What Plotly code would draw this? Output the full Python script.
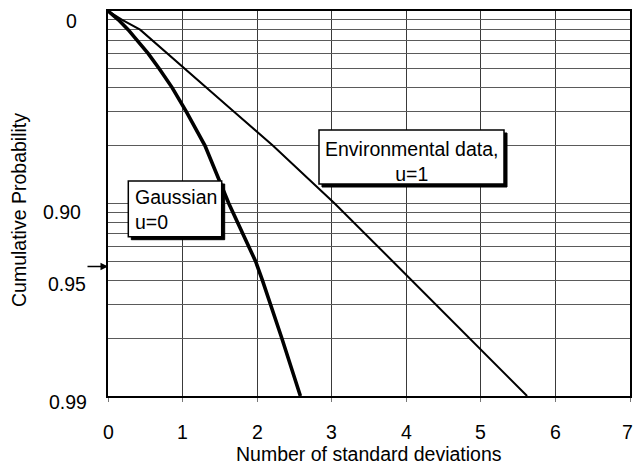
import numpy as np
import plotly.graph_objects as go

# ---------------- data ----------------
x_tick_values = [0, 1, 2, 3, 4, 5, 6, 7]

gaussian_prob = [0.0, 0.1, 0.2, 0.3, 0.4, 0.5, 0.6, 0.7, 0.8, 0.9, 0.95, 0.96, 0.97, 0.98, 0.99]
gaussian_sd = [0.0, 0.14, 0.27, 0.40, 0.54, 0.69, 0.86, 1.05, 1.30, 1.62, 1.98, 2.07, 2.18, 2.33, 2.58]

env_prob = [0.0, 0.1, 0.2, 0.3, 0.4, 0.5, 0.6, 0.7, 0.8, 0.9, 0.95, 0.97, 0.98, 0.99]
env_sd = [0.0, 0.19, 0.43, 0.60, 0.80, 1.03, 1.32, 1.69, 2.21, 3.04, 3.82, 4.39, 4.84, 5.62]

grid_prob = [0.1, 0.2, 0.3, 0.4, 0.5, 0.6, 0.7, 0.8, 0.9,
             0.91, 0.92, 0.93, 0.94, 0.95, 0.96, 0.97, 0.98]

y_label_text = ["0", "0.90", "0.95", "0.99"]
y_label_prob = [0.0, 0.90, 0.95, 0.99]
arrow_prob = 0.95

gauss_label = "Gaussian<br>u=0"
env_label = "Environmental data,<br>u=1"


def scale(p):
    """Exponential probability paper: -ln(1-p)."""
    return -np.log(1.0 - np.asarray(p, dtype=float))


# ---------------- figure ----------------
W, H = 634, 464
L, R, T, B = 108, 4, 11, 68
PW, PH = W - L - R, H - T - B
FONT = "Liberation Sans, Arial, sans-serif"
FS = 19.5


def px(xp):
    return (xp - L) / PW


def py(yp):
    return (T + PH - yp) / PH


fig = go.Figure()
fig.add_trace(go.Scatter(x=env_sd, y=scale(env_prob), mode="lines",
                         line=dict(color="black", width=2), showlegend=False))
fig.add_trace(go.Scatter(x=gaussian_sd, y=scale(gaussian_prob), mode="lines",
                         line=dict(color="black", width=3.6), showlegend=False))

fig.update_layout(
    width=W, height=H,
    margin=dict(l=L, r=R, t=T, b=B),
    paper_bgcolor="white", plot_bgcolor="white",
    font=dict(family=FONT, size=FS, color="black"),
    showlegend=False,
)
fig.update_xaxes(
    range=[0, 7], tickvals=x_tick_values, showticklabels=False,
    showgrid=True, gridcolor="#3a3a3a", gridwidth=1,
    zeroline=False, showline=True, linecolor="black", linewidth=2, mirror=True,
    ticks="outside", ticklen=4, tickcolor="#777", automargin=False,
)
fig.update_yaxes(
    range=[float(scale(0.99)), 0], tickvals=list(scale(grid_prob)), showticklabels=False,
    showgrid=True, gridcolor="#5a5a5a", gridwidth=1, zeroline=False,
    showline=True, linecolor="black", linewidth=2, mirror=True, ticks="", automargin=False,
)

ann = []
# x tick labels (last one nudged so it stays inside the page)
for i, v in enumerate(x_tick_values):
    ann.append(dict(text=str(v), xref="x", yref="paper", x=v, y=py(432),
                    xshift=-3 if i == len(x_tick_values) - 1 else 0,
                    xanchor="center", yanchor="middle", showarrow=False,
                    font=dict(size=FS)))
# y tick labels (placed as in the reference)
label_center_x = [71.5, 62, 67, 68]
label_shift_y = [-10, -8.5, -22.5, -5.7]
for txt, p, cx, dy in zip(y_label_text, y_label_prob, label_center_x, label_shift_y):
    ann.append(dict(text=txt, xref="paper", yref="y", x=0, y=float(scale(p)),
                    xshift=cx - L, yshift=dy, xanchor="center", yanchor="middle",
                    showarrow=False, font=dict(size=FS)))
# arrow on the left axis
ann.append(dict(text="", xref="paper", yref="y", x=0, y=float(scale(arrow_prob)), yshift=-5,
                showarrow=True, arrowhead=2, arrowsize=1, arrowwidth=1.5, arrowcolor="black",
                ax=-22, ay=0))
# axis titles
ann.append(dict(text="Number of standard deviations", xref="paper", yref="paper",
                x=px(368.5), y=py(453.5), xanchor="center", yanchor="middle",
                showarrow=False, font=dict(size=FS)))
ann.append(dict(text="Cumulative Probability", xref="paper", yref="paper",
                x=px(19), y=py(210), xanchor="center", yanchor="middle", textangle=-90,
                showarrow=False, font=dict(size=FS)))
# box texts
ann.append(dict(text=gauss_label, xref="paper", yref="paper", x=px(133), y=py(209.5),
                xanchor="left", yanchor="middle", align="left", showarrow=False,
                font=dict(size=FS)))
ann.append(dict(text=env_label, xref="paper", yref="paper", x=px(411.5), y=py(161),
                xanchor="center", yanchor="middle", align="center", showarrow=False,
                font=dict(size=FS)))
fig.update_layout(annotations=ann)

shapes = []
for (x0, y0, x1, y1) in [(128.3, 181, 221.7, 236.7), (319, 130, 504, 184)]:
    shapes.append(dict(type="rect", xref="paper", yref="paper",
                       x0=px(x0 + 3), x1=px(x1 + 3), y0=py(y0 + 3), y1=py(y1 + 3),
                       fillcolor="black", line=dict(color="black", width=1), layer="above"))
    shapes.append(dict(type="rect", xref="paper", yref="paper",
                       x0=px(x0), x1=px(x1), y0=py(y0), y1=py(y1),
                       fillcolor="white", line=dict(color="black", width=1.5), layer="above"))
fig.update_layout(shapes=shapes)

fig.write_html("out.html", config={"displayModeBar": False},
               post_script="document.body.style.margin='0px';document.body.style.overflow='hidden';")
